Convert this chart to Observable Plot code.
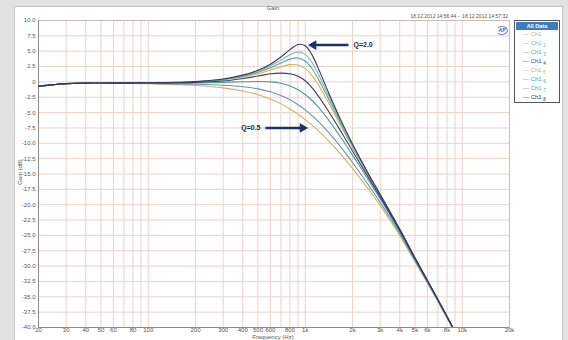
<!DOCTYPE html>
<html>
<head>
<meta charset="utf-8">
<script src="https://cdn.jsdelivr.net/npm/d3@7"></script>
<script src="https://cdn.jsdelivr.net/npm/@observablehq/plot@0.6"></script>
<style>
  body { margin:0; width:568px; height:340px; background:#e2e2e2; position:relative; overflow:hidden;
         font-family:"Liberation Sans", Arial, sans-serif; }
  .abs { position:absolute; white-space:nowrap; }
  #panel { position:absolute; left:14px; top:6px; width:547px; height:340px; background:#fff; border:1px solid #c4c4c4; }
  #chart { position:absolute; left:0; top:0; }
  #legend { position:absolute; left:514px; top:20px; width:44px; height:81px; border:1px solid #555; background:#fff; }
  #legend .hdr { position:absolute; left:1px; top:1px; width:42px; height:8px; background:#3d7cc0; color:#fff;
                 font-size:5.5px; font-weight:bold; text-align:center; line-height:8px; }
  #legend .item { position:absolute; left:8px; font-size:6px; line-height:7px; }
  #legend .item sub { font-size:4.5px; vertical-align:-2px; margin-left:1.5px; }
</style>
</head>
<body>
<div id="panel"></div>
<div id="chart"></div>
<div class="abs" style="left:261px; top:5px; width:24px; text-align:center; font-size:6px; color:#555;">Gain</div>
<div class="abs" style="left:380px; top:12.5px; width:128px; text-align:right; font-size:5px; color:#555;">18.12.2012 14:56:44 -&nbsp; 18.12.2012 14:57:32</div>
<div class="abs" style="left:496px; top:25.5px; width:10px; height:7px; border-radius:50%; border:1px solid #6b8fc9; border-left-color:transparent; font-size:5px; font-weight:bold; font-style:italic; color:#2a5ca8; line-height:7px; text-align:center;">AP</div>
<div class="abs" style="left:0px; top:169px; width:40px; text-align:center; font-size:6px; color:#555; transform:rotate(-90deg); transform-origin:20px 3px;">Gain (dB)</div>
<div class="abs" style="left:233px; top:333.5px; width:80px; text-align:center; font-size:6px; color:#555;">Frequency (Hz)</div>
<div id="legend"><div class="hdr">All Data</div></div>
<script>
// ---- data ----
const freqs = [20,25,30,40,50,70,100,150,200,300,400,500,600,700,800,900,1000,1100,1200,1400,1700,2000,2500,3000,4000,5000,6000,7000,8000,8700];

const ch1   = [-0.72,-0.45,-0.29,-0.21,-0.2,-0.24,-0.31,-0.45,-0.59,-0.97,-1.47,-2.09,-2.79,-3.58,-4.42,-5.27,-6.14,-7.01,-7.87,-9.53,-11.9,-14.08,-17.31,-20.1,-25.0,-29.3,-32.76,-35.78,-38.46,-40.19];
const ch1_2 = [-0.72,-0.45,-0.28,-0.2,-0.17,-0.17,-0.15,-0.09,0.04,0.44,1.01,1.73,2.6,3.55,4.43,4.88,4.49,3.23,1.48,-2.14,-6.7,-10.26,-14.83,-18.37,-24.03,-28.67,-32.33,-35.47,-38.22,-39.99];
const ch1_3 = [-0.72,-0.45,-0.28,-0.2,-0.17,-0.18,-0.15,-0.1,0.02,0.39,0.92,1.57,2.32,3.09,3.71,3.9,3.4,2.23,0.67,-2.64,-6.96,-10.43,-14.92,-18.43,-24.06,-28.69,-32.34,-35.48,-38.23,-39.99];
const ch1_4 = [-0.72,-0.45,-0.28,-0.2,-0.18,-0.2,-0.18,-0.15,-0.08,0.15,0.55,0.95,1.32,1.43,1.32,0.91,0.18,-0.9,-2.15,-4.69,-8.2,-11.24,-15.39,-18.73,-24.22,-28.79,-32.41,-35.52,-38.26,-40.02];
const ch1_5 = [-0.72,-0.45,-0.28,-0.2,-0.17,-0.18,-0.16,-0.11,-0.01,0.33,0.79,1.33,1.94,2.48,2.82,2.76,2.16,1.07,-0.31,-3.28,-7.33,-10.66,-15.05,-18.51,-24.1,-28.71,-32.36,-35.49,-38.24,-40.0];
const ch1_6 = [-0.72,-0.45,-0.28,-0.2,-0.18,-0.2,-0.2,-0.21,-0.18,-0.08,0.02,0.06,0.0,-0.23,-0.65,-1.27,-2.06,-2.99,-4.0,-6.1,-9.18,-11.93,-15.82,-19.02,-24.38,-28.89,-32.48,-35.57,-38.29,-40.06];
const ch1_7 = [-0.72,-0.45,-0.28,-0.2,-0.18,-0.21,-0.25,-0.33,-0.39,-0.55,-0.79,-1.14,-1.61,-2.22,-2.92,-3.71,-4.56,-5.44,-6.35,-8.14,-10.74,-13.13,-16.62,-19.59,-24.7,-29.1,-32.62,-35.67,-38.38,-40.13];
const ch1_8 = [-0.72,-0.45,-0.28,-0.2,-0.17,-0.16,-0.14,-0.08,0.06,0.48,1.1,1.89,2.89,4.05,5.26,6.1,5.9,4.48,2.45,-1.6,-6.43,-10.1,-14.74,-18.31,-24.0,-28.65,-32.31,-35.45,-38.2,-39.98];

const legendNames = ["Ch1","Ch1","Ch1","Ch1","Ch1","Ch1","Ch1","Ch1"];
const legendSubs  = ["","2","3","4","5","6","7","8"];
const seriesColors = ["#c9b46a","#7db8a6","#5c9fa6","#3f3a66","#cdb555","#4a9e96","#6a93b0","#35335c"];
const seriesValues = [ch1, ch1_2, ch1_3, ch1_4, ch1_5, ch1_6, ch1_7, ch1_8];
const drawOrder = [0, 6, 5, 4, 2, 1, 3, 7];

const xTickValues = [20,30,40,50,60,80,100,200,300,400,500,600,800,1000,2000,3000,4000,5000,6000,8000,10000,20000];
const xGridValues = [20,30,40,50,60,70,80,90,100,200,300,400,500,600,700,800,900,1000,2000,3000,4000,5000,6000,7000,8000,9000,10000,20000];
const yTickValues = d3.range(-40, 10.01, 2.5);

const annLabels   = ["Q=2.0", "Q=0.5"];
const annTailFreq = [1886, 558];
const annHeadFreq = [1129, 961];
const annGain     = [6.0, -7.5];
const annTextFreq = [2029, 519];
const annRotate   = [-90, 90];

// ---- build ----
const rows = [];
drawOrder.forEach((s, k) => {
  freqs.forEach((f, i) => rows.push({f, g: seriesValues[s][i], s, order: k}));
});
const ann = annLabels.map((t, i) => ({t, tail: annTailFreq[i], head: annHeadFreq[i], g: annGain[i], tx: annTextFreq[i], rot: annRotate[i]}));

const xFmt = d => d >= 1000 ? (d / 1000) + "k" : String(d);
const yFmt = d => d === 0 ? "0" : d.toFixed(1);

const chart = Plot.plot({
  width: 568, height: 340,
  marginLeft: 38, marginRight: 59, marginTop: 20, marginBottom: 13,
  style: {background: "transparent", fontFamily: "Liberation Sans, Arial, sans-serif", color: "#555", overflow: "visible"},
  x: {type: "log", domain: [20, 20000], label: null, axis: null},
  y: {domain: [-40, 10], label: null},
  marks: [
    Plot.gridX(xGridValues, {stroke: "#e7d4cb", strokeOpacity: 1}),
    Plot.gridY(yTickValues, {stroke: "#e7d4cb", strokeOpacity: 1}),
    Plot.frame({stroke: "#cbbcb6"}),
    Plot.ruleX([20], {stroke: "#8a8a8a"}),
    Plot.ruleY([-40], {stroke: "#8a8a8a"}),
    Plot.text(xTickValues, {x: d => d, text: xFmt, frameAnchor: "bottom", dy: 4.5, fontSize: 6, fill: "#555"}),
    Plot.axisY(yTickValues, {tickSize: 0, tickPadding: 3, tickFormat: yFmt, fontSize: 6, fill: "#555", label: null}),
    ...drawOrder.map(s => Plot.line(rows.filter(r => r.s === s), {
      x: "f", y: "g", stroke: seriesColors[s], strokeWidth: 1.1, curve: "catmull-rom", clip: true
    })),
    Plot.link(ann, {x1: "tail", x2: "head", y1: "g", y2: "g", stroke: "#1f3168", strokeWidth: 2.4}),
    Plot.dot(ann, {x: "head", y: "g", symbol: "triangle", r: 3.6, fill: "#1f3168", stroke: "none", rotate: "rot"}),
    Plot.text(ann.filter(d => d.rot < 0), {x: "tx", y: "g", text: "t", textAnchor: "start", fontSize: 7, fontWeight: "bold", fill: "#2a2a2a"}),
    Plot.text(ann.filter(d => d.rot > 0), {x: "tx", y: "g", text: "t", textAnchor: "end", fontSize: 7, fontWeight: "bold", fill: "#2a2a2a"})
  ]
});
document.getElementById("chart").appendChild(chart);

// legend
const leg = document.getElementById("legend");
legendNames.forEach((n, i) => {
  const d = document.createElement("div");
  d.className = "item";
  d.style.top = (9.5 + i * 9.1) + "px";
  d.style.color = seriesColors[i];
  d.innerHTML = "\u2014 " + n + (legendSubs[i] ? "<sub>" + legendSubs[i] + "</sub>" : "");
  leg.appendChild(d);
});
</script>
</body>
</html>
